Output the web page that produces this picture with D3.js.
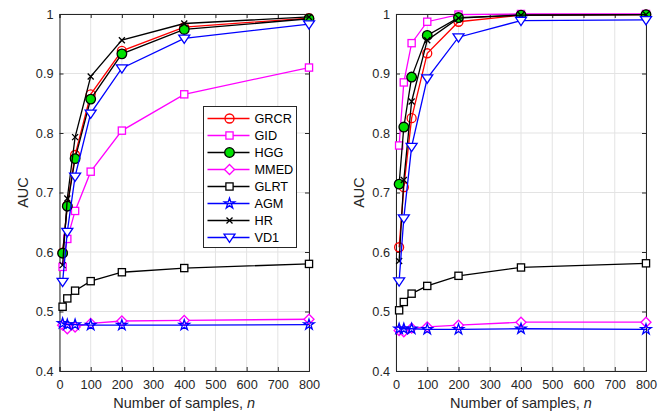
<!DOCTYPE html>
<html><head><meta charset="utf-8">
<script src="https://cdn.jsdelivr.net/npm/d3@7"></script>
<style>body{margin:0;background:#fff}svg{display:block;font-family:"Liberation Sans",Arial,sans-serif}</style>
</head><body><svg id="c" width="666" height="414"></svg>
<script>
const samples = [10, 25, 50, 100, 200, 400, 800];
const seriesNames = ["GRCR","GID","HGG","MMED","GLRT","AGM","HR","VD1"];
const xTicks = [0,100,200,300,400,500,600,700,800];
const yTicks = [0.4,0.5,0.6,0.7,0.8,0.9,1];
const yTickLabels = ["0.4","0.5","0.6","0.7","0.8","0.9","1"];

// left panel
const leftGRCR = [0.599, 0.678, 0.763, 0.865, 0.938, 0.978, 0.993];
const leftGID  = [0.575, 0.622, 0.669, 0.735, 0.804, 0.865, 0.910];
const leftHGG  = [0.598, 0.677, 0.757, 0.857, 0.933, 0.974, 0.992];
const leftMMED = [0.477, 0.471, 0.474, 0.480, 0.484, 0.485, 0.487];
const leftGLRT = [0.508, 0.522, 0.535, 0.551, 0.566, 0.573, 0.580];
const leftAGM  = [0.480, 0.478, 0.478, 0.477, 0.477, 0.477, 0.478];
const leftHR   = [0.578, 0.690, 0.793, 0.895, 0.956, 0.984, 0.995];
const leftVD1  = [0.550, 0.634, 0.727, 0.833, 0.909, 0.959, 0.983];

// right panel
const rightGRCR = [0.608, 0.709, 0.825, 0.934, 0.987, 0.998, 0.999];
const rightGID  = [0.779, 0.885, 0.951, 0.987, 0.999, 1.000, 1.000];
const rightHGG  = [0.714, 0.810, 0.894, 0.964, 0.994, 0.998, 0.999];
const rightMMED = [0.468, 0.466, 0.472, 0.474, 0.477, 0.482, 0.482];
const rightGLRT = [0.502, 0.516, 0.530, 0.543, 0.560, 0.574, 0.581];
const rightAGM  = [0.471, 0.471, 0.471, 0.470, 0.470, 0.471, 0.470];
const rightHR   = [0.585, 0.721, 0.853, 0.956, 0.993, 0.998, 0.999];
const rightVD1  = [0.551, 0.657, 0.777, 0.892, 0.961, 0.989, 0.990];

const styles = {
  GRCR:{color:"#ff0000", marker:"circle", fill:"none"},
  GID:{color:"#ff00ff", marker:"square", fill:"none"},
  HGG:{color:"#000000", marker:"circle", fill:"#00e000", big:true},
  MMED:{color:"#ff00ff", marker:"diamond", fill:"none"},
  GLRT:{color:"#000000", marker:"square", fill:"none"},
  AGM:{color:"#0000ff", marker:"star", fill:"none"},
  HR:{color:"#000000", marker:"cross", fill:"none"},
  VD1:{color:"#0000ff", marker:"triangle", fill:"none"}
};

const panels = [
  {x0:59.5, x1:309, data:[leftGRCR,leftGID,leftHGG,leftMMED,leftGLRT,leftAGM,leftHR,leftVD1], legend:true},
  {x0:396, x1:646, data:[rightGRCR,rightGID,rightHGG,rightMMED,rightGLRT,rightAGM,rightHR,rightVD1], legend:false}
];
const yTop = 14, yBot = 371;
const axisCol = "#262626";
const svg = d3.select("#c");

function drawMarker(g, type, cx, cy, st){
  const c = st.color;
  if(type==="circle"){
    g.append("circle").attr("cx",cx).attr("cy",cy).attr("r",st.big?4.8:4.5)
      .attr("fill",st.fill).attr("stroke",c).attr("stroke-width",1.3);
  } else if(type==="square"){
    const s=3.6;
    g.append("rect").attr("x",cx-s).attr("y",cy-s).attr("width",2*s).attr("height",2*s)
      .attr("fill","#fff").attr("stroke",c).attr("stroke-width",1.3);
  } else if(type==="diamond"){
    const s=5;
    g.append("path").attr("d",`M${cx},${cy-s}L${cx+s},${cy}L${cx},${cy+s}L${cx-s},${cy}Z`)
      .attr("fill","#fff").attr("stroke",c).attr("stroke-width",1.3);
  } else if(type==="triangle"){
    const s=5.5;
    g.append("path").attr("d",`M${cx-s},${cy-s*0.6}L${cx+s},${cy-s*0.6}L${cx},${cy+s*0.9}Z`)
      .attr("fill","#fff").attr("stroke",c).attr("stroke-width",1.3);
  } else if(type==="star"){
    g.append("path").attr("d",d3.symbol(d3.symbolStar,34)())
      .attr("transform",`translate(${cx},${cy})`)
      .attr("fill","none").attr("stroke",c).attr("stroke-width",1.3);
  } else if(type==="cross"){
    const s=3;
    g.append("path").attr("d",`M${cx-s},${cy-s}L${cx+s},${cy+s}M${cx-s},${cy+s}L${cx+s},${cy-s}`)
      .attr("stroke",c).attr("stroke-width",1.3);
  }
}

panels.forEach(p=>{
  const x = d3.scaleLinear().domain([0,800]).range([p.x0,p.x1]);
  const y = d3.scaleLinear().domain([0.4,1]).range([yBot,yTop]);
  const g = svg.append("g");
  // grid
  g.append("g").selectAll("line").data(xTicks).join("line")
    .attr("x1",d=>x(d)).attr("x2",d=>x(d)).attr("y1",yTop).attr("y2",yBot)
    .attr("stroke","#e3e3e3").attr("stroke-width",1);
  g.append("g").selectAll("line").data(yTicks).join("line")
    .attr("y1",d=>y(d)).attr("y2",d=>y(d)).attr("x1",p.x0).attr("x2",p.x1)
    .attr("stroke","#e3e3e3").attr("stroke-width",1);
  // axes
  const xa = g.append("g").attr("transform",`translate(0,${yBot})`)
    .call(d3.axisBottom(x).tickValues(xTicks).tickSize(-4).tickPadding(9).tickFormat(d3.format("d")));
  const xt = g.append("g").attr("transform",`translate(0,${yTop})`)
    .call(d3.axisTop(x).tickValues(xTicks).tickSize(-4).tickFormat(""));
  const ya = g.append("g").attr("transform",`translate(${p.x0},0)`)
    .call(d3.axisLeft(y).tickValues(yTicks).tickSize(-4).tickPadding(6).tickFormat((d,i)=>yTickLabels[i]));
  const yr = g.append("g").attr("transform",`translate(${p.x1},0)`)
    .call(d3.axisRight(y).tickValues(yTicks).tickSize(-4).tickFormat(""));
  [xa,xt,ya,yr].forEach(a=>{
    a.select(".domain").attr("stroke",axisCol).attr("stroke-width",1);
    a.selectAll(".tick line").attr("stroke",axisCol);
    a.selectAll("text").attr("fill",axisCol).style("font-size","12.7px").style("font-family","'Liberation Sans',Arial,sans-serif");
  });
  // labels
  g.append("text").attr("x",(p.x0+p.x1)/2).attr("y",408).attr("text-anchor","middle")
    .attr("fill",axisCol).style("font-size","14.5px")
    .html('Number of samples, <tspan font-style="italic">n</tspan>');
  g.append("text").attr("transform",`translate(${p.x0-32},${(yTop+yBot)/2}) rotate(-90)`)
    .attr("text-anchor","middle").attr("fill",axisCol).style("font-size","14.5px").text("AUC");
  // series
  const line = d3.line().x((d,i)=>x(samples[i])).y(d=>y(d));
  seriesNames.forEach((name,k)=>{
    const st = styles[name];
    const sg = g.append("g");
    sg.append("path").datum(p.data[k]).attr("d",line).attr("fill","none")
      .attr("stroke",st.color).attr("stroke-width",1.3);
    p.data[k].forEach((v,i)=>drawMarker(sg, st.marker, x(samples[i]), y(v), st));
  });
  // legend
  if(p.legend){
    const lx=203.5, ly=106.5, lw=93, rowH=17;
    g.append("rect").attr("x",lx).attr("y",ly).attr("width",lw).attr("height",141)
      .attr("fill","#fff").attr("stroke",axisCol).attr("stroke-width",1);
    seriesNames.forEach((name,k)=>{
      const st=styles[name]; const cy=ly+12+k*rowH;
      g.append("line").attr("x1",lx+4).attr("x2",lx+46).attr("y1",cy).attr("y2",cy)
        .attr("stroke",st.color).attr("stroke-width",1.3);
      drawMarker(g, st.marker, lx+26, cy, st);
      g.append("text").attr("x",lx+51).attr("y",cy+4.5).attr("fill","#000")
        .style("font-size","12.7px").text(name);
    });
  }
});
</script></body></html>
